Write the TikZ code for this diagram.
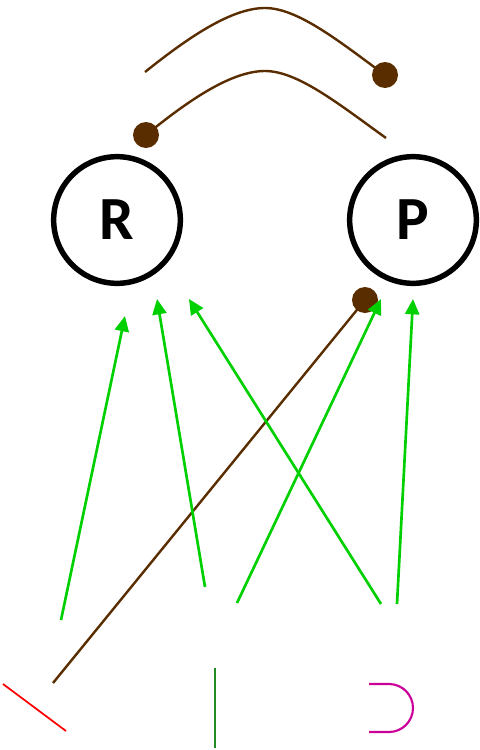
\documentclass[tikz,border=0pt]{standalone}
\usepackage{fontspec}
\setmainfont{Carlito}
\usetikzlibrary{arrows.meta,calc,positioning}
\definecolor{inhib}{RGB}{90,45,0}
\definecolor{activ}{RGB}{0,208,0}
\definecolor{darkgr}{RGB}{34,139,34}
\definecolor{magen}{RGB}{204,0,153}
\tikzset{
    punkt/.style={
           circle,
           draw=black, line width=4.1pt,
           minimum size=95pt,
           inner sep=0pt,
           font=\bfseries\fontsize{46}{46}\selectfont,
           text centered},
    blob/.style={
           circle,
           fill=inhib,
           minimum size=19.5pt,
           inner sep=0pt},
    pil/.style={
           -{Triangle[length=11.5pt,width=10.5pt]},
           activ,
           line width=2pt},
    brun/.style={
           inhib,
           line width=1.8pt}
}

\begin{document}
\begin{tikzpicture}[x=0.75pt,y=-0.75pt]
        \useasboundingbox (0,0) rectangle (479,750);
        \node[punkt] (R) at (117,220) {R};
        \node[punkt] (P) at (413,220) {P};
        \node[blob] (dotA) at (146,135) {};
        \node[blob] (dotB) at (385,75) {};
        \node[blob] (dotC) at (365,300) {};
        \coordinate (topL) at (145,72);
        \coordinate (lowR) at (386,138);
        \coordinate (brunS) at (53,683);
        \coordinate (s1) at (61,620);
        \coordinate (t1) at (125,316);
        \coordinate (s2) at (205,587);
        \coordinate (t2) at (157,299);
        \coordinate (s3) at (237,603);
        \coordinate (t3) at (381,299);
        \coordinate (s4) at (381,604);
        \coordinate (t4) at (189,299);
        \coordinate (s5) at (397,604);
        \coordinate (t5) at (413,299);
        \coordinate (redA) at (3,684);
        \coordinate (redB) at (66,731);
        \coordinate (grA) at (215,668);
        \coordinate (grB) at (215,748);
        \coordinate (magA) at (369,684);
        \coordinate (magB) at (369,732);
        \draw[brun] (topL) .. controls (190,36) and (232,8) .. (265,8)
            .. controls (298,8) and (340,42) .. (dotB.center);
        \draw[brun] (dotA.center) .. controls (190,99) and (232,71) .. (265,71)
            .. controls (298,71) and (340,105) .. (lowR);
        \draw[brun] (brunS) -- (dotC.center);
        \draw[pil] (s1) -- (t1);
        \draw[pil] (s2) -- (t2);
        \draw[pil] (s3) -- (t3);
        \draw[pil] (s4) -- (t4);
        \draw[pil] (s5) -- (t5);
        \draw[red, line width=1.3pt] (redA) -- (redB);
        \draw[darkgr, line width=1.5pt] (grA) -- (grB);
        \draw[magen, line width=1.6pt] (magA) -- ++(20,0) arc[start angle=-90,end angle=90,radius=24] -- (magB);
\end{tikzpicture}
\end{document}
